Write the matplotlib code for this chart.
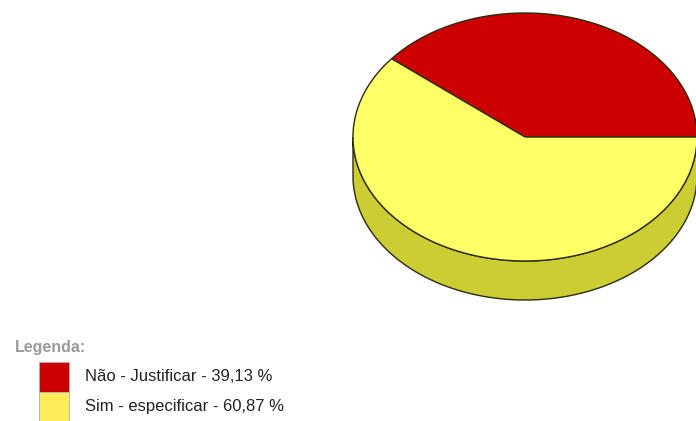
import numpy as np
import matplotlib
matplotlib.use("Agg")
import matplotlib.pyplot as plt
from matplotlib.patches import Polygon, Rectangle

# Survey answers and their shares (%)
labels = ["Não - Justificar", "Sim - especificar"]
values = [39.13, 60.87]
top_colors = ["#CC0000", "#FFFF66"]
side_colors = ["#990000", "#CCCC33"]
legend_colors = ["#CC0000", "#FFEA5A"]
legend_title = "Legenda:"

W, H = 696, 421
fig = plt.figure(figsize=(W / 100, H / 100), dpi=100)
ax = fig.add_axes([0, 0, 1, 1])
ax.set_xlim(0, W)
ax.set_ylim(H, 0)
ax.axis("off")

# 3D pie geometry (pixels)
cx, cy = 525, 137
rx, ry = 172, 124
depth = 39
edge = "#2b2b10"


def ell(t_deg, dy=0.0):
    t = np.radians(t_deg)
    return cx + rx * np.cos(t), cy - ry * np.sin(t) + dy


total = sum(values)
starts = np.cumsum([0] + values[:-1]) / total * 360.0
ends = np.cumsum(values) / total * 360.0

# Side walls: only the front half (180..360 deg) is visible
for s, e, sc in zip(starts, ends, side_colors):
    a0, a1 = max(s, 180.0), min(e, 360.0)
    if a1 <= a0:
        continue
    ts = np.linspace(a0, a1, 200)
    top = np.column_stack(ell(ts))
    bot = np.column_stack(ell(ts[::-1], depth))
    ax.add_patch(Polygon(np.vstack([top, bot]), closed=True, facecolor=sc,
                         edgecolor=edge, linewidth=1.0, zorder=1))

# Top faces
for s, e, tc in zip(starts, ends, top_colors):
    ts = np.linspace(s, e, 300)
    pts = np.vstack([[cx, cy], np.column_stack(ell(ts))])
    ax.add_patch(Polygon(pts, closed=True, facecolor=tc, edgecolor=edge,
                         linewidth=1.0, zorder=2))

# Legend
ax.text(15, 352, legend_title, fontsize=11.5, color="#9a9a9a",
        fontweight="bold", family="Liberation Sans", va="baseline", ha="left")
box_x, box_w, box_h = 39, 30, 30
for i, (lab, v, lc) in enumerate(zip(labels, values, legend_colors)):
    y0 = 362 + i * box_h
    ax.add_patch(Rectangle((box_x, y0), box_w, box_h, facecolor=lc,
                           edgecolor="#b0b0b0", linewidth=0.6, zorder=3))
    txt = f"{lab} - {v:.2f}".replace(".", ",") + " %"
    ax.text(85, y0 + 19, txt, fontsize=12, color="#222222",
            family="Liberation Sans", va="baseline", ha="left")

fig.savefig("out.png", dpi=100)
